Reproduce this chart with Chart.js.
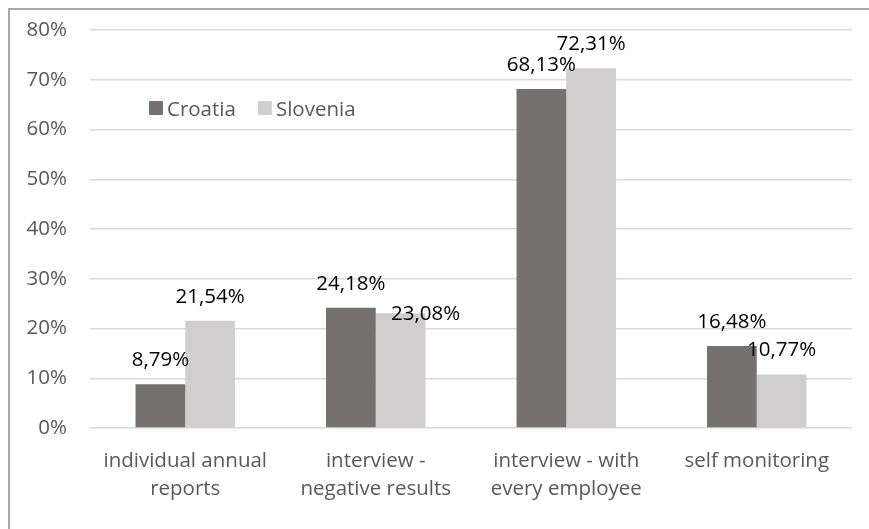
<!DOCTYPE html>
<html>
<head>
<meta charset="utf-8">
<script src="https://cdn.jsdelivr.net/npm/chart.js@4.4.1/dist/chart.umd.min.js"></script>
<style>
html,body{margin:0;padding:0;background:#fff;}
canvas{display:block;}
</style>
</head>
<body>
<canvas id="c" width="869" height="529"></canvas>
<script>
const categories = [
  ["individual annual", "reports"],
  ["interview -", "negative results"],
  ["interview - with", "every employee"],
  ["self monitoring"]
];
const seriesNames = ["Croatia", "Slovenia"];
const croatia = [8.79, 24.18, 68.13, 16.48];
const slovenia = [21.54, 23.08, 72.31, 10.77];
const yTicks = [0, 10, 20, 30, 40, 50, 60, 70, 80];

const FONT = "'Open Sans', 'Noto Sans', sans-serif";
const PLOT_TOP = 30;

// manual nudges of individual value labels (dataset index, point index) -> [dx, dy]
const labelNudges = { "1-1": [25, 25] };

const framePlugin = {
  id: 'frame',
  beforeDraw(chart) {
    const ctx = chart.ctx;
    ctx.save();
    ctx.strokeStyle = '#8c8c8c';
    ctx.lineWidth = 1.5;
    ctx.beginPath();
    ctx.moveTo(9, 529);
    ctx.lineTo(9, 9);
    ctx.lineTo(869, 9);
    ctx.stroke();
    ctx.restore();
  }
};

const topFixPlugin = {
  id: 'topFix',
  afterLayout(chart) {
    const y = chart.scales.y;
    y.top = PLOT_TOP;
    y.height = y.bottom - y.top;
    y.configure();
    chart.chartArea.top = PLOT_TOP;
    chart.chartArea.height = chart.chartArea.bottom - PLOT_TOP;
  }
};

const labelPlugin = {
  id: 'valueLabels',
  afterDatasetsDraw(chart) {
    const ctx = chart.ctx;
    ctx.save();
    ctx.font = "20.5px " + FONT;
    ctx.fillStyle = '#000';
    ctx.textAlign = 'center';
    ctx.textBaseline = 'alphabetic';
    chart.data.datasets.forEach((ds, di) => {
      const meta = chart.getDatasetMeta(di);
      meta.data.forEach((bar, i) => {
        const txt = ds.data[i].toFixed(2).replace('.', ',') + '%';
        const n = labelNudges[di + '-' + i] || [0, 0];
        ctx.fillText(txt, bar.x + n[0], bar.y - 18 + n[1]);
      });
    });
    ctx.restore();
  }
};

const legendPlugin = {
  id: 'customLegend',
  afterDraw(chart) {
    const ctx = chart.ctx;
    ctx.save();
    ctx.font = "20.5px " + FONT;
    ctx.textBaseline = 'alphabetic';
    ctx.textAlign = 'left';
    let x = 149;
    const y = 101;
    chart.data.datasets.forEach((ds) => {
      ctx.fillStyle = ds.backgroundColor;
      ctx.fillRect(x, y, 14, 14);
      ctx.fillStyle = '#595959';
      ctx.fillText(ds.label, x + 18, y + 15);
      x += 18 + ctx.measureText(ds.label).width + 22;
    });
    ctx.restore();
  }
};

new Chart(document.getElementById('c'), {
  type: 'bar',
  data: {
    labels: categories,
    datasets: [
      { label: seriesNames[0], data: croatia, backgroundColor: '#767171' },
      { label: seriesNames[1], data: slovenia, backgroundColor: '#d0cece' }
    ]
  },
  options: {
    responsive: false,
    animation: false,
    devicePixelRatio: 1,
    layout: { padding: { left: 0, right: 17, top: 30, bottom: 0 } },
    datasets: { bar: { categoryPercentage: 0.522, barPercentage: 1 } },
    plugins: { legend: { display: false }, tooltip: { enabled: false } },
    scales: {
      x: {
        grid: { display: false },
        border: { display: false },
        ticks: {
          color: '#595959',
          font: { family: FONT, size: 20.5, lineHeight: 1.38 },
          padding: 11,
          maxRotation: 0,
          autoSkip: false
        },
        afterFit(scale) { scale.height = 101; }
      },
      y: {
        min: 0,
        max: 80,
        afterBuildTicks(scale) { scale.ticks = yTicks.map(v => ({ value: v })); },
        grid: { color: '#d9d9d9', lineWidth: 1.5, drawTicks: false },
        border: { display: false },
        ticks: {
          color: '#595959',
          font: { family: FONT, size: 20.5 },
          padding: 23,
          callback: v => v + '%'
        },
        afterFit(scale) { scale.width = 90; }
      }
    }
  },
  plugins: [framePlugin, topFixPlugin, labelPlugin, legendPlugin]
});
</script>
</body>
</html>
